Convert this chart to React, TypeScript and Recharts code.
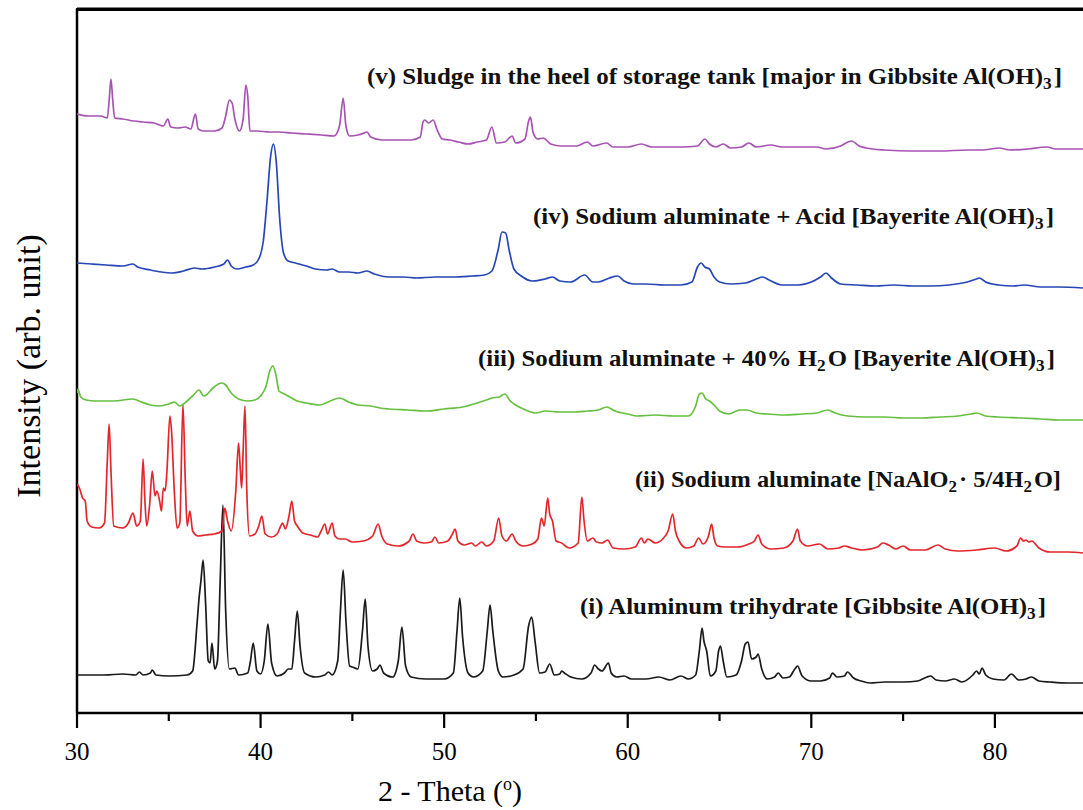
import React from "react";
import { LineChart, Line, XAxis, YAxis, ReferenceLine } from "recharts";

// 2-Theta (deg) vs intensity (arb. unit, stacked offsets already included)
const seriesI: [number, number][] = [
  [30.0, 38], [31.5, 38], [32.5, 39], [33.2, 38], [33.4, 41], [33.6, 38], [34.0, 40], [34.1, 43], [34.3, 38],
  [35.0, 37], [36.0, 38], [36.3, 42], [36.55, 92], [36.65, 115], [36.75, 132], [36.87, 153], [37.0, 112],
  [37.15, 52], [37.25, 50], [37.35, 70], [37.5, 44], [37.65, 52], [37.8, 132], [37.95, 208], [38.1, 102],
  [38.3, 44], [38.6, 45], [38.8, 38], [39.3, 40], [39.45, 52], [39.6, 70], [39.8, 42], [40.0, 39], [40.2, 52],
  [40.4, 89], [40.6, 50], [40.9, 37], [41.3, 40], [41.5, 44], [41.7, 44], [41.85, 72], [42.0, 102], [42.15, 67],
  [42.4, 40], [43.0, 36], [43.5, 38], [43.7, 41], [43.9, 38], [44.2, 52], [44.35, 102], [44.5, 143], [44.65, 92],
  [44.85, 47], [45.0, 46], [45.3, 44], [45.55, 82], [45.7, 114], [45.85, 67], [46.1, 42], [46.35, 44], [46.5, 48],
  [46.7, 40], [47.2, 36], [47.5, 52], [47.7, 86], [47.9, 47], [48.2, 36], [49.0, 34], [49.5, 34], [50.0, 34],
  [50.5, 40], [50.7, 82], [50.85, 115], [51.0, 77], [51.3, 40], [51.6, 36], [52.1, 42], [52.35, 82], [52.5, 108],
  [52.65, 82], [52.95, 42], [53.2, 36], [53.8, 38], [54.3, 44], [54.6, 87], [54.77, 96], [54.95, 72], [55.2, 40],
  [55.5, 41], [55.75, 49], [56.0, 38], [56.3, 39], [56.4, 42], [56.55, 40], [56.9, 36], [57.5, 34], [58.0, 40],
  [58.2, 48], [58.4, 44], [58.6, 42], [58.95, 50], [59.1, 40], [59.4, 36], [59.8, 37], [60.2, 34], [61.0, 34],
  [61.7, 36], [62.3, 33], [62.9, 37], [63.3, 34], [63.7, 38], [63.9, 62], [64.05, 85], [64.15, 72], [64.3, 62],
  [64.5, 37], [64.8, 42], [64.95, 62], [65.05, 67], [65.2, 52], [65.4, 36], [65.9, 38], [66.2, 52], [66.4, 69],
  [66.55, 71], [66.75, 54], [67.0, 56], [67.1, 59], [67.3, 44], [67.6, 34], [68.0, 36], [68.2, 40], [68.45, 35],
  [68.8, 36], [69.1, 44], [69.25, 47], [69.5, 37], [70.0, 32], [70.5, 32], [71.0, 35], [71.15, 40], [71.4, 36],
  [71.8, 37], [71.97, 41], [72.3, 35], [72.7, 32], [73.2, 30], [74.0, 31], [75.0, 31], [75.8, 32], [76.3, 36],
  [76.5, 37], [76.8, 33], [77.3, 32], [77.8, 34], [78.2, 31], [78.8, 38], [79.0, 42], [79.15, 39], [79.3, 45],
  [79.5, 38], [79.9, 34], [80.5, 33], [80.9, 39], [81.3, 33], [81.7, 34], [82.0, 36], [82.4, 32], [83.0, 31],
  [84.0, 30], [84.8, 30],
];

const seriesII: [number, number][] = [
  [30.0, 229], [30.15, 224], [30.3, 215], [30.45, 212], [30.55, 192], [30.8, 186], [31.2, 185], [31.5, 190],
  [31.65, 252], [31.75, 289], [31.85, 242], [32.0, 187], [32.5, 185], [32.8, 190], [33.05, 200], [33.25, 187],
  [33.45, 192], [33.6, 254], [33.7, 212], [33.8, 187], [33.95, 207], [34.1, 242], [34.25, 217], [34.35, 222],
  [34.5, 212], [34.6, 202], [34.7, 225], [34.8, 222], [34.9, 242], [35.06, 297], [35.15, 282], [35.3, 222],
  [35.45, 185], [35.6, 190], [35.77, 309], [35.9, 232], [36.0, 187], [36.15, 202], [36.3, 182], [36.6, 177],
  [37.0, 178], [37.5, 179], [37.9, 182], [38.05, 205], [38.2, 192], [38.4, 182], [38.65, 222], [38.8, 270],
  [38.9, 242], [38.97, 225], [39.05, 262], [39.15, 307], [39.25, 222], [39.4, 177], [39.7, 179], [39.9, 187],
  [40.07, 197], [40.25, 179], [40.6, 176], [40.9, 179], [41.1, 187], [41.2, 190], [41.35, 184], [41.55, 197],
  [41.7, 212], [41.85, 192], [42.0, 187], [42.3, 180], [42.7, 178], [43.1, 176], [43.3, 182], [43.5, 189],
  [43.65, 179], [43.9, 190], [44.05, 177], [44.3, 174], [44.6, 174], [45.0, 171], [45.6, 172], [46.1, 177],
  [46.4, 189], [46.6, 177], [46.9, 169], [47.5, 167], [48.1, 172], [48.3, 179], [48.5, 172], [48.9, 170],
  [49.3, 171], [49.5, 176], [49.7, 170], [50.2, 172], [50.45, 179], [50.6, 184], [50.75, 172], [51.1, 168],
  [51.5, 170], [51.7, 167], [52.05, 171], [52.3, 167], [52.7, 172], [52.97, 195], [53.15, 177], [53.4, 172],
  [53.7, 179], [53.9, 172], [54.3, 167], [54.8, 169], [55.1, 174], [55.3, 195], [55.45, 187], [55.64, 215],
  [55.75, 199], [55.9, 192], [56.1, 172], [56.4, 170], [56.8, 165], [57.3, 170], [57.5, 216], [57.62, 192],
  [57.8, 172], [58.1, 175], [58.3, 171], [58.6, 170], [58.9, 173], [59.2, 165], [59.8, 164], [60.4, 166],
  [60.75, 175], [60.9, 170], [61.1, 174], [61.5, 170], [61.9, 174], [62.2, 182], [62.45, 199], [62.6, 182],
  [62.8, 172], [63.2, 165], [63.6, 167], [63.86, 175], [64.1, 169], [64.4, 177], [64.57, 189], [64.7, 175],
  [64.9, 167], [65.3, 166], [66.0, 166], [66.6, 169], [66.9, 172], [67.1, 178], [67.3, 169], [67.8, 164],
  [68.5, 165], [69.0, 172], [69.25, 184], [69.4, 172], [69.8, 167], [70.45, 169], [70.9, 164], [71.5, 165],
  [71.8, 167], [72.2, 165], [72.8, 163], [73.6, 166], [73.9, 170], [74.2, 168], [74.6, 164], [75.0, 167],
  [75.4, 163], [76.2, 163], [76.9, 168], [77.3, 164], [78.0, 162], [79.0, 163], [80.0, 165], [80.6, 162],
  [81.2, 167], [81.4, 175], [81.55, 172], [81.7, 173], [81.85, 171], [82.0, 172], [82.4, 165], [83.0, 161],
  [84.0, 161], [84.8, 160],
];

const seriesIII: [number, number][] = [
  [30.0, 320], [30.05, 324], [30.2, 316], [30.5, 313], [31.0, 312], [32.0, 312], [33.05, 314], [33.5, 311],
  [34.0, 308], [34.5, 307], [35.0, 309], [35.3, 311], [35.6, 307], [36.0, 312], [36.3, 317], [36.65, 323],
  [36.9, 317], [37.1, 319], [37.4, 325], [37.9, 330], [38.1, 328], [38.4, 320], [38.8, 314], [39.3, 312],
  [39.7, 313], [40.0, 317], [40.3, 327], [40.5, 342], [40.67, 347], [40.85, 337], [41.0, 322], [41.3, 319],
  [41.5, 317], [42.0, 312], [42.5, 310], [43.2, 308], [43.8, 312], [44.3, 315], [44.8, 311], [45.3, 308],
  [46.0, 307], [46.5, 305], [47.0, 304], [48.0, 303], [49.0, 302], [50.0, 304], [51.0, 306], [51.8, 310],
  [52.3, 313], [52.6, 315], [53.0, 316], [53.3, 319], [53.6, 312], [54.2, 305], [55.0, 300], [55.5, 302],
  [56.3, 301], [57.0, 301], [57.8, 302], [58.4, 303], [58.85, 306], [59.3, 302], [60.0, 299], [60.5, 297],
  [61.5, 298], [62.5, 297], [63.3, 297], [63.7, 307], [63.9, 319], [64.05, 320], [64.25, 314], [64.45, 312],
  [64.7, 308], [65.0, 302], [65.5, 299], [66.1, 303], [66.5, 303], [67.0, 300], [67.6, 299], [68.5, 298],
  [69.5, 299], [70.3, 300], [70.9, 303], [71.3, 300], [72.0, 297], [73.0, 296], [74.0, 296], [75.0, 295],
  [76.0, 295], [77.0, 296], [78.0, 297], [78.7, 299], [79.0, 300], [79.5, 297], [80.2, 296], [81.5, 295],
  [82.5, 294], [83.5, 293], [84.8, 293],
];

const seriesIV: [number, number][] = [
  [30.0, 450], [30.8, 449], [31.6, 448], [32.5, 447], [33.05, 449], [33.3, 446], [34.0, 443], [34.6, 441],
  [35.2, 440], [35.8, 442], [36.4, 445], [36.8, 444], [37.5, 446], [38.0, 449], [38.2, 453], [38.4, 447],
  [38.7, 444], [39.2, 446], [39.6, 448], [39.9, 454], [40.15, 472], [40.35, 512], [40.55, 557], [40.7, 569],
  [40.85, 552], [41.05, 492], [41.25, 460], [41.5, 452], [41.9, 450], [42.5, 447], [43.0, 444], [43.6, 443],
  [43.9, 444], [44.3, 441], [44.8, 441], [45.3, 440], [45.8, 442], [46.2, 439], [47.0, 436], [47.8, 436],
  [48.5, 435], [49.5, 436], [50.5, 436], [51.5, 437], [52.2, 438], [52.6, 442], [52.95, 464], [53.15, 481],
  [53.35, 480], [53.55, 462], [53.8, 444], [54.2, 437], [54.8, 432], [55.5, 434], [55.9, 436], [56.3, 432],
  [56.9, 431], [57.65, 438], [58.1, 431], [58.4, 431], [59.0, 435], [59.45, 437], [59.8, 432], [60.3, 429],
  [61.0, 429], [62.0, 428], [62.9, 428], [63.5, 431], [63.8, 446], [64.0, 450], [64.2, 446], [64.45, 444],
  [64.7, 436], [65.0, 431], [65.6, 429], [66.4, 430], [67.0, 434], [67.35, 436], [67.7, 433], [68.4, 428],
  [69.3, 428], [70.0, 431], [70.5, 436], [70.8, 440], [71.1, 435], [71.6, 429], [72.5, 428], [73.5, 427],
  [74.5, 428], [75.5, 427], [76.5, 427], [77.5, 428], [78.5, 431], [79.0, 434], [79.15, 435], [79.5, 431],
  [80.2, 428], [81.0, 427], [81.6, 428], [82.5, 426], [83.5, 426], [84.8, 425],
];

const seriesV: [number, number][] = [
  [30.0, 599], [30.6, 597], [31.3, 597], [31.65, 595], [31.75, 612], [31.85, 634], [31.95, 612], [32.05, 595],
  [32.5, 594], [33.1, 592], [33.6, 591], [34.2, 590], [34.7, 587], [34.95, 594], [35.1, 586], [35.5, 585],
  [35.9, 586], [36.2, 584], [36.45, 599], [36.6, 584], [36.9, 582], [37.5, 582], [37.9, 585], [38.1, 597],
  [38.3, 613], [38.45, 610], [38.6, 594], [38.85, 582], [39.05, 594], [39.2, 628], [39.3, 617], [39.42, 582],
  [39.8, 582], [40.5, 581], [41.0, 581], [41.7, 580], [42.5, 579], [43.3, 578], [44.0, 577], [44.3, 587],
  [44.5, 615], [44.65, 587], [44.85, 577], [45.3, 578], [45.65, 580], [45.8, 581], [46.0, 576], [46.6, 573],
  [47.3, 573], [48.2, 573], [48.7, 576], [48.85, 591], [48.95, 593], [49.15, 590], [49.4, 593], [49.6, 584],
  [49.9, 574], [50.3, 573], [50.8, 571], [51.3, 569], [51.8, 571], [52.3, 573], [52.6, 586], [52.85, 570],
  [53.3, 571], [53.7, 577], [53.9, 570], [54.4, 574], [54.6, 592], [54.7, 596], [54.85, 580], [55.1, 574],
  [55.4, 575], [55.8, 569], [56.4, 567], [57.2, 567], [57.8, 571], [58.1, 567], [58.85, 570], [59.2, 566],
  [60.0, 566], [60.75, 569], [61.3, 566], [62.2, 566], [63.0, 566], [63.8, 567], [64.2, 574], [64.45, 569],
  [64.8, 566], [65.2, 569], [65.6, 565], [66.2, 566], [66.6, 570], [67.0, 566], [67.8, 568], [68.4, 566],
  [69.5, 566], [70.3, 566], [70.8, 564], [71.6, 567], [72.0, 571], [72.2, 572], [72.6, 567], [73.0, 565],
  [74.0, 563], [75.5, 562], [77.0, 562], [78.5, 563], [79.3, 563], [80.25, 565], [80.8, 563], [81.8, 564],
  [82.85, 566], [83.3, 564], [84.8, 564],
];

const xTicks = [30, 35, 40, 45, 50, 55, 60, 65, 70, 75, 80];
const xLabelTicks = [30, 40, 50, 60, 70, 80];
const X_DOMAIN: [number, number] = [30, 84.8];
const Y_DOMAIN: [number, number] = [0, 704];

const CHART_W = 1083;
const CHART_H = 810;
const PLOT_LEFT = 77;
const PLOT_TOP = 9;

const toRows = (s: [number, number][]) => s.map(([x, y]) => ({ x, y }));

const SERIF = "Liberation Serif, Times New Roman, serif";

const renderTick = (props: any) => {
  const { x, y, payload } = props;
  const major = xLabelTicks.includes(payload.value);
  return (
    <g key={`t-${payload.value}`}>
      <line x1={x} x2={x} y1={y} y2={y + (major ? 15 : 8)} stroke="#000" strokeWidth={2.2} />
      {major && (
        <text
          x={x}
          y={y + 47}
          textAnchor="middle"
          style={{ fontFamily: SERIF, fontSize: 25 }}
          fill="#000"
        >
          {payload.value}
        </text>
      )}
    </g>
  );
};

const Sub = ({ t }: { t: string }) => (
  <>
    <tspan dy={5} fontSize={16}>{t}</tspan>
    <tspan dy={-5}>{"\u200A"}</tspan>
  </>
);

export default function App() {
  const ann = { fontWeight: 700, fontSize: 23, fill: "#111" } as const;
  const annStyle = { fontFamily: SERIF };
  return (
    <div style={{ position: "absolute", left: 0, top: 0, width: CHART_W, height: CHART_H, background: "#fff" }}>
      <LineChart width={CHART_W} height={CHART_H} margin={{ top: PLOT_TOP, right: 0, bottom: 0, left: PLOT_LEFT }}>
        <XAxis
          dataKey="x"
          type="number"
          domain={X_DOMAIN}
          ticks={xTicks}
          allowDataOverflow
          height={97}
          tickSize={0}
          tickMargin={0}
          tickLine={false}
          tick={renderTick}
          axisLine={{ stroke: "#000", strokeWidth: 2.5 }}
        />
        <YAxis type="number" domain={Y_DOMAIN} allowDataOverflow hide />
        <ReferenceLine x={X_DOMAIN[0]} stroke="#000" strokeWidth={2.5} ifOverflow="visible" />
        <ReferenceLine y={Y_DOMAIN[1]} stroke="#000" strokeWidth={3} ifOverflow="visible" />
        <Line data={toRows(seriesI)} dataKey="y" type="monotone" stroke="#1a1a1a" strokeWidth={1.7} dot={false} isAnimationActive={false} />
        <Line data={toRows(seriesII)} dataKey="y" type="monotone" stroke="#e3262c" strokeWidth={1.7} dot={false} isAnimationActive={false} />
        <Line data={toRows(seriesIII)} dataKey="y" type="monotone" stroke="#66c040" strokeWidth={1.7} dot={false} isAnimationActive={false} />
        <Line data={toRows(seriesIV)} dataKey="y" type="monotone" stroke="#2647b5" strokeWidth={1.7} dot={false} isAnimationActive={false} />
        <Line data={toRows(seriesV)} dataKey="y" type="monotone" stroke="#a852b4" strokeWidth={1.7} dot={false} isAnimationActive={false} />
      </LineChart>
      {/* plot frame top edge */}
      <div
        style={{
          position: "absolute",
          left: PLOT_LEFT - 1,
          top: PLOT_TOP - 1.5,
          width: CHART_W - PLOT_LEFT + 1,
          height: 0,
          borderTop: "3px solid #000",
        }}
      />
      <svg width={CHART_W} height={CHART_H} style={{ position: "absolute", left: 0, top: 0, pointerEvents: "none" }}>
        <text x={367} y={84} {...ann} style={annStyle} textLength={695} lengthAdjust="spacingAndGlyphs">
          (v) Sludge in the heel of storage tank [major in Gibbsite Al(OH)<Sub t="3" />]
        </text>
        <text x={533} y={224} {...ann} style={annStyle} textLength={521} lengthAdjust="spacingAndGlyphs">
          (iv) Sodium aluminate + Acid [Bayerite Al(OH)<Sub t="3" />]
        </text>
        <text x={478} y={366} {...ann} style={annStyle} textLength={577} lengthAdjust="spacingAndGlyphs">
          (iii) Sodium aluminate + 40% H<Sub t="2" />O [Bayerite Al(OH)<Sub t="3" />]
        </text>
        <text x={635} y={487} {...ann} style={annStyle} textLength={426} lengthAdjust="spacingAndGlyphs">
          (ii) Sodium aluminate [NaAlO<Sub t="2" />· 5/4H<Sub t="2" />O]
        </text>
        <text x={580} y={614} {...ann} style={annStyle} textLength={466} lengthAdjust="spacingAndGlyphs">
          (i) Aluminum trihydrate [Gibbsite Al(OH)<Sub t="3" />]
        </text>
        <text x={450} y={801} textAnchor="middle" style={{ fontFamily: SERIF, fontSize: 30 }} fill="#000">
          2 - Theta (<tspan dy={-11} fontSize={18}>o</tspan><tspan dy={11}>)</tspan>
        </text>
        <text
          transform="translate(40, 366) rotate(-90)"
          textAnchor="middle"
          style={{ fontFamily: SERIF, fontSize: 34 }}
          fill="#000"
        >
          Intensity (arb. unit)
        </text>
      </svg>
    </div>
  );
}
